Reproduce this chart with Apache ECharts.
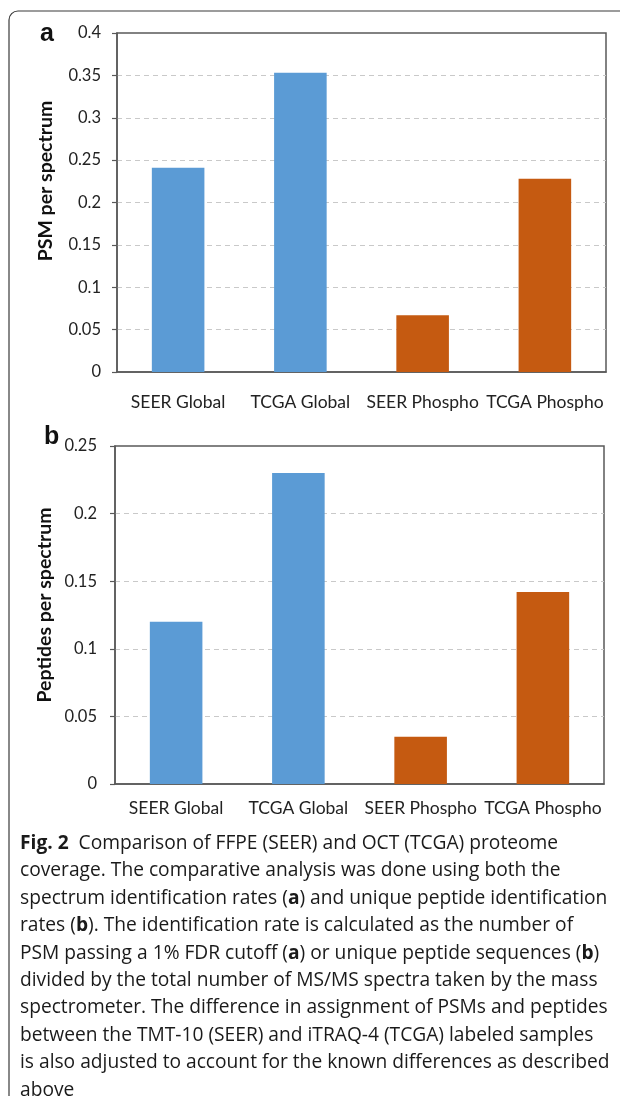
<!DOCTYPE html>
<html>
<head>
<meta charset="utf-8">
<style>
  html, body { margin: 0; padding: 0; background: #fff; }
  #chart { width: 620px; height: 1096px; }
</style>
<script src="https://cdn.jsdelivr.net/npm/echarts@6/dist/echarts.min.js"></script>
</head>
<body>
<div id="chart"></div>
<script>
// Sample groups and the two identification-rate measures
const categories = ['SEER Global', 'TCGA Global', 'SEER Phospho', 'TCGA Phospho'];
const sampleType = ['Global', 'Global', 'Phospho', 'Phospho'];
const psmPerSpectrum = [0.241, 0.353, 0.067, 0.228];
const peptidesPerSpectrum = [0.120, 0.230, 0.035, 0.142];

const captionLines = [
  '{b|Fig. 2}  Comparison of FFPE (SEER) and OCT (TCGA) proteome',
  'coverage. The comparative analysis was done using both the',
  'spectrum identification rates ({b|a}) and unique peptide identification',
  'rates ({b|b}). The identification rate is calculated as the number of',
  'PSM passing a 1% FDR cutoff ({b|a}) or unique peptide sequences ({b|b})',
  'divided by the total number of MS/MS spectra taken by the mass',
  'spectrometer. The difference in assignment of PSMs and peptides',
  'between the TMT-10 (SEER) and iTRAQ-4 (TCGA) labeled samples',
  'is also adjusted to account for the known differences as described',
  'above'
];

const typeColor = { Global: '#5b9bd5', Phospho: '#c55a11' };
const FONT = 'Lato, "Open Sans", sans-serif';
const CAPTION_FONT = '"Open Sans", "Noto Sans", sans-serif';
const AXIS_DARK = '#595959';

const chart = echarts.init(document.getElementById('chart'), null, { renderer: 'canvas' });

function yAxisFor(gridIndex, max, margin) {
  return {
    type: 'value', gridIndex, min: 0, max, interval: 0.05,
    axisLine: { show: true, lineStyle: { color: AXIS_DARK, width: 1.5 } },
    axisTick: { show: true, inside: false, length: 5, lineStyle: { color: AXIS_DARK, width: 1.2 } },
    axisLabel: { margin, fontFamily: FONT, fontSize: 16.5, color: '#222' },
    splitLine: { show: true, showMinLine: false, showMaxLine: false,
      lineStyle: { color: '#c9c9c9', type: [5, 4], width: 1 } }
  };
}

function xAxisFor(gridIndex, margin) {
  return {
    type: 'category', gridIndex, data: categories,
    axisLine: { show: true, lineStyle: { color: AXIS_DARK, width: 1.5 } },
    axisTick: { show: false },
    axisLabel: { margin, fontFamily: FONT, fontSize: 17.5, color: '#222', interval: 0 }
  };
}

function barSeries(axisIndex, values) {
  return {
    type: 'bar', xAxisIndex: axisIndex, yAxisIndex: axisIndex,
    data: values, barWidth: '43%',
    itemStyle: { color: p => typeColor[sampleType[p.dataIndex]] },
    emphasis: { disabled: true }
  };
}

// vertical axis titles, read bottom-to-top
function axisTitle(text, x, y) {
  return {
    type: 'text', x, y, rotation: Math.PI / 2,
    style: { text, fontFamily: FONT, fontWeight: 'bold', fontSize: 19.5, fill: '#111',
      align: 'center', verticalAlign: 'middle' }
  };
}

const captionGraphics = captionLines.map((line, i) => ({
  type: 'text', left: 20, top: 834 + i * 27.4,
  style: {
    text: line, fontFamily: CAPTION_FONT, fontSize: 19.2, fill: '#1a1a1a',
    rich: { b: { fontFamily: CAPTION_FONT, fontSize: 19.2, fontWeight: 'bold', fill: '#1a1a1a' } }
  }
}));

chart.setOption({
  animation: false,
  backgroundColor: '#fff',
  grid: [
    { left: 117, top: 33, width: 489, height: 339, show: true, borderColor: AXIS_DARK, borderWidth: 1.5, backgroundColor: 'transparent' },
    { left: 115, top: 446, width: 489, height: 338, show: true, borderColor: AXIS_DARK, borderWidth: 1.5, backgroundColor: 'transparent' }
  ],
  xAxis: [xAxisFor(0, 21), xAxisFor(1, 15)],
  yAxis: [yAxisFor(0, 0.4, 16), yAxisFor(1, 0.25, 18)],
  series: [barSeries(0, psmPerSpectrum), barSeries(1, peptidesPerSpectrum)],
  graphic: [
    // figure frame: rounded top-left corner, open to the right and bottom
    { type: 'rect', shape: { x: 9, y: 11, width: 800, height: 1300, r: 9 },
      style: { fill: 'none', stroke: '#3a3a3a', lineWidth: 1.2 }, silent: true },
    { type: 'text', left: 40, top: 22, style: { text: 'a', fontFamily: 'Arial, "Liberation Sans", sans-serif', fontWeight: 'bold', fontSize: 25, fill: '#111' } },
    { type: 'text', left: 44, top: 425, style: { text: 'b', fontFamily: 'Arial, "Liberation Sans", sans-serif', fontWeight: 'bold', fontSize: 25, fill: '#111' } },
    axisTitle('PSM per spectrum', 46, 181),
    axisTitle('Peptides per spectrum', 45, 605),
    ...captionGraphics
  ]
});
</script>
</body>
</html>
